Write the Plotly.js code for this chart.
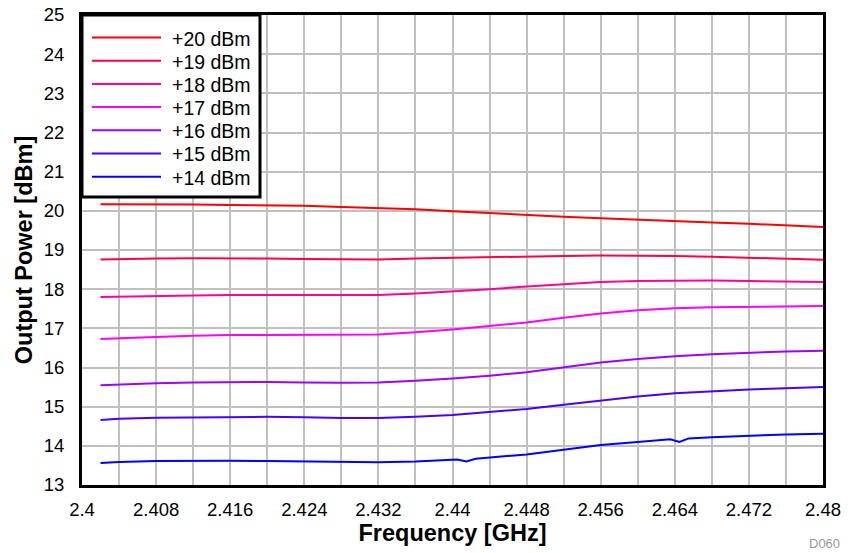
<!DOCTYPE html>
<html>
<head>
<meta charset="utf-8">
<script src="https://cdn.plot.ly/plotly-3.0.1.min.js"></script>
<style>html,body{margin:0;padding:0;background:#fff;}#chart{width:856px;height:553px;}</style>
</head>
<body>
<div id="chart"></div>
<script>
const freq = [2.402, 2.404, 2.408, 2.412, 2.416, 2.420, 2.424, 2.428, 2.432, 2.436, 2.440, 2.444, 2.448, 2.452, 2.456, 2.460, 2.464, 2.468, 2.472, 2.476, 2.480];
const p20 = [20.17, 20.17, 20.17, 20.16, 20.15, 20.14, 20.13, 20.10, 20.07, 20.04, 19.99, 19.94, 19.89, 19.85, 19.81, 19.77, 19.73, 19.70, 19.67, 19.63, 19.59];
const p19 = [18.76, 18.77, 18.78, 18.79, 18.79, 18.78, 18.77, 18.76, 18.76, 18.78, 18.80, 18.82, 18.83, 18.85, 18.86, 18.86, 18.85, 18.83, 18.80, 18.78, 18.75];
const p18 = [17.80, 17.81, 17.83, 17.84, 17.85, 17.85, 17.84, 17.84, 17.85, 17.89, 17.94, 18.00, 18.07, 18.13, 18.18, 18.21, 18.22, 18.22, 18.21, 18.20, 18.18];
const p17 = [16.73, 16.75, 16.78, 16.81, 16.83, 16.83, 16.83, 16.83, 16.84, 16.90, 16.97, 17.06, 17.15, 17.27, 17.38, 17.46, 17.51, 17.54, 17.55, 17.56, 17.57];
const p16 = [15.55, 15.57, 15.60, 15.62, 15.63, 15.63, 15.62, 15.61, 15.62, 15.66, 15.72, 15.79, 15.88, 16.01, 16.13, 16.22, 16.29, 16.34, 16.38, 16.41, 16.43];
const p15 = [14.66, 14.69, 14.72, 14.73, 14.74, 14.74, 14.73, 14.71, 14.71, 14.74, 14.79, 14.86, 14.94, 15.05, 15.15, 15.26, 15.34, 15.39, 15.44, 15.47, 15.50];
const freq14 = [2.402, 2.404, 2.408, 2.412, 2.416, 2.420, 2.424, 2.428, 2.432, 2.436, 2.4405, 2.4415, 2.4425, 2.448, 2.452, 2.456, 2.460, 2.4635, 2.4645, 2.4655, 2.468, 2.472, 2.476, 2.480];
const p14 = [13.56, 13.59, 13.61, 13.62, 13.62, 13.61, 13.60, 13.58, 13.58, 13.60, 13.65, 13.60, 13.67, 13.78, 13.90, 14.02, 14.10, 14.17, 14.10, 14.19, 14.22, 14.26, 14.29, 14.31];
const seriesNames = ["+20 dBm", "+19 dBm", "+18 dBm", "+17 dBm", "+16 dBm", "+15 dBm", "+14 dBm"];
const seriesColors = ["#FF0000", "#FF0048", "#FF00A0", "#FF00FF", "#A000FF", "#4800FF", "#0000FF"];
const xTickVals = [2.4, 2.408, 2.416, 2.424, 2.432, 2.44, 2.448, 2.456, 2.464, 2.472, 2.48];
const xTickText = ["2.4", "2.408", "2.416", "2.424", "2.432", "2.44", "2.448", "2.456", "2.464", "2.472", "2.48"];
const xMinorVals = [2.404, 2.412, 2.42, 2.428, 2.436, 2.444, 2.452, 2.46, 2.468, 2.476];

const xs = [freq, freq, freq, freq, freq, freq, freq14];
const ys = [p20, p19, p18, p17, p16, p15, p14];
const traces = ys.map((y, i) => ({
  x: xs[i], y: y, type: 'scatter', mode: 'lines', name: seriesNames[i],
  line: {color: seriesColors[i], width: 2}
}));

// plot area geometry (pixels)
const W = 856, H = 553, L = 82, R = 33, T = 15, B = 68;
const pw = W - L - R, ph = H - T - B;
const px = v => (v - L) / pw;
const py = v => (H - B - v) / ph;

const font = {family: 'Liberation Sans, Arial, sans-serif', color: '#000'};

// custom legend box
const shapes = [{
  type: 'rect', xref: 'paper', yref: 'paper',
  x0: px(82), x1: px(260), y0: py(197), y1: py(15),
  line: {color: '#000', width: 3}, fillcolor: '#fff', layer: 'above'
}];
const annotations = [];
seriesNames.forEach((n, i) => {
  const yy = 37.5 + i * 23.2;
  shapes.push({type: 'line', xref: 'paper', yref: 'paper', x0: px(92), x1: px(161), y0: py(yy), y1: py(yy),
    line: {color: seriesColors[i], width: 2}, layer: 'above'});
  annotations.push({text: n, xref: 'paper', yref: 'paper', x: px(170), y: py(yy + 1), xanchor: 'left', yanchor: 'middle',
    showarrow: false, font: Object.assign({size: 19.5}, font)});
});
annotations.push({
  text: 'D060', xref: 'paper', yref: 'paper', x: px(842), y: py(543),
  xanchor: 'right', yanchor: 'middle', showarrow: false,
  font: {family: 'Liberation Sans, Arial, sans-serif', size: 13, color: '#999'}
});

const layout = {
  width: W, height: H,
  margin: {l: L, r: R, t: T, b: B},
  paper_bgcolor: '#fff', plot_bgcolor: '#fff',
  font: Object.assign({size: 18.5}, font),
  showlegend: false,
  xaxis: {
    range: [2.4, 2.48],
    tickvals: xTickVals, ticktext: xTickText,
    showgrid: true, gridcolor: '#c0c0c0', gridwidth: 2,
    minor: {tickvals: xMinorVals, showgrid: true, gridcolor: '#c0c0c0', gridwidth: 2},
    showline: true, linecolor: '#000', linewidth: 3, mirror: true,
    ticks: '', zeroline: false, ticklabelstandoff: 6,
    tickfont: Object.assign({size: 18.5}, font),
    title: {text: '<b>Frequency [GHz]</b>', font: Object.assign({size: 23.5}, font), standoff: 6}
  },
  yaxis: {
    range: [13, 25], dtick: 1,
    showgrid: true, gridcolor: '#c0c0c0', gridwidth: 2,
    showline: true, linecolor: '#000', linewidth: 3, mirror: true,
    ticks: '', zeroline: false, ticklabelstandoff: 11,
    tickfont: Object.assign({size: 18.5}, font),
    title: {text: '<b>Output Power [dBm]</b>', font: Object.assign({size: 23.5}, font), standoff: 5}
  },
  shapes: shapes,
  annotations: annotations
};
Plotly.newPlot('chart', traces, layout, {displayModeBar: false, staticPlot: true});
</script>
</body>
</html>
